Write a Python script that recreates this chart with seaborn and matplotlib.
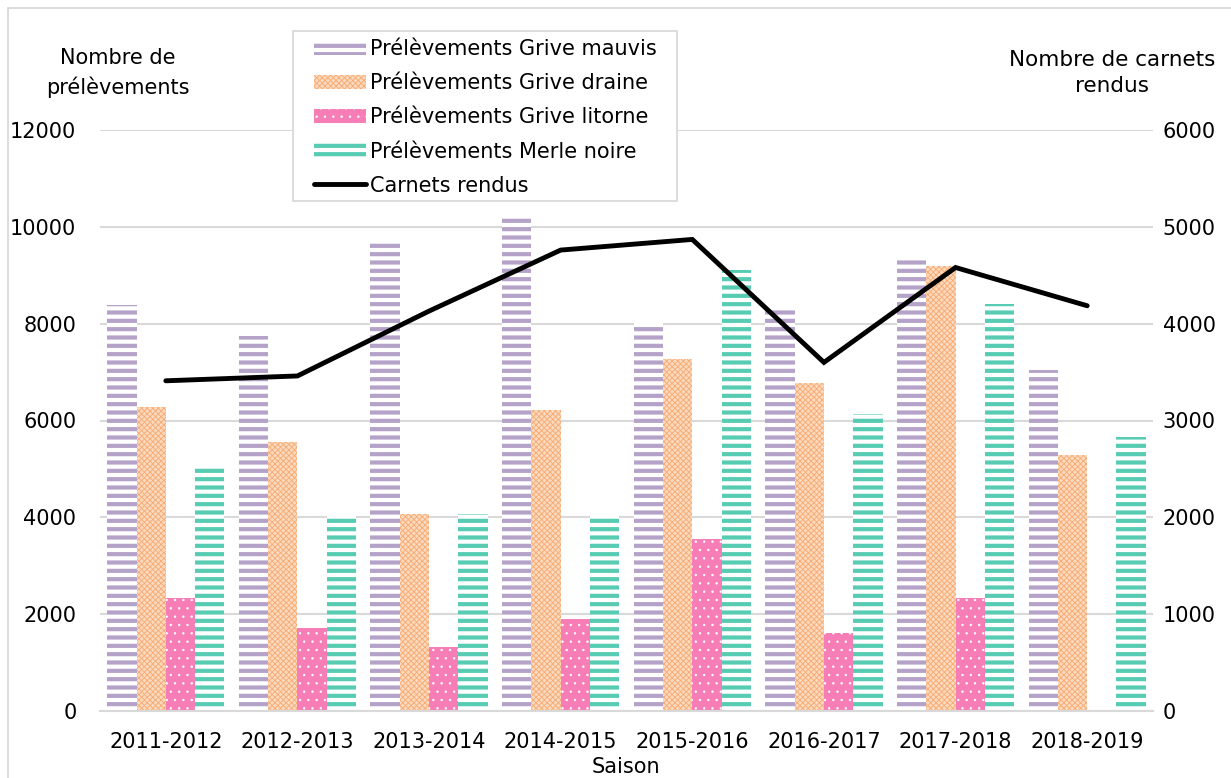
import numpy as np
import pandas as pd
import matplotlib
matplotlib.use("Agg")
import matplotlib.pyplot as plt
import seaborn as sns
from matplotlib.patches import Rectangle
from matplotlib.lines import Line2D

# ---- data -------------------------------------------------------------
saisons = ["2011-2012", "2012-2013", "2013-2014", "2014-2015",
           "2015-2016", "2016-2017", "2017-2018", "2018-2019"]

grive_mauvis = [8380, 7750, 9700, 10230, 8020, 8290, 9340, 7050]
grive_draine = [6270, 5560, 4060, 6210, 7270, 6780, 9200, 5290]
grive_litorne = [2330, 1710, 1320, 1890, 3560, 1620, 2330, 0]
merle_noire = [5030, 4020, 4060, 4050, 9110, 6140, 8410, 5660]
carnets_rendus = [3410, 3460, 4130, 4760, 4870, 3600, 4580, 4185]

series_labels = ["Prélèvements Grive mauvis", "Prélèvements Grive draine",
                 "Prélèvements Grive litorne", "Prélèvements Merle noire"]
line_label = "Carnets rendus"

left_ticks = [0, 2000, 4000, 6000, 8000, 10000, 12000]
right_ticks = [0, 1000, 2000, 3000, 4000, 5000, 6000]

# ---- styling ----------------------------------------------------------
sns.set_style("white")
plt.rcParams["font.family"] = ["DejaVu Sans"]
plt.rcParams["font.size"] = 15
for key in ("text.color", "axes.labelcolor", "xtick.color", "ytick.color"):
    plt.rcParams[key] = "black"

grid_grey = "#D9D9D9"
styles = [
    # face, hatch colour, hatch, hatch linewidth
    ("white", "#B4A2C8", "--", 3.0),
    ("#FCDAC0", "#F7AC74", "xxxxxx", 0.65),
    ("#F77DB6", "white", "..", 0.5),
    ("white", "#57CCB2", "--", 3.0),
]


def apply_style(patch, style):
    face, hcol, hatch, hlw = style
    patch.set_facecolor(face)
    patch.set_edgecolor(hcol)
    patch.set_linewidth(0)
    patch.set_hatch(hatch)
    if hasattr(patch, "set_hatch_linewidth"):
        patch.set_hatch_linewidth(hlw)


df = pd.DataFrame({
    "Saison": saisons * 4,
    "Espèce": np.repeat(series_labels, len(saisons)),
    "Prélèvements": grive_mauvis + grive_draine + grive_litorne + merle_noire,
})

fig = plt.figure(figsize=(12.31, 7.78), dpi=100)
ax = fig.add_axes([100 / 1231, 1 - 711 / 778, 1053 / 1231, 581 / 778])

sns.barplot(data=df, x="Saison", y="Prélèvements", hue="Espèce",
            hue_order=series_labels, order=saisons,
            palette=[s[0] for s in styles], saturation=1,
            width=0.89, gap=0, linewidth=0, legend=False, ax=ax)

for cont, style in zip(ax.containers, styles):
    for bar in cont.patches:
        apply_style(bar, style)

ax.set_ylim(0, 12000)
ax.set_yticks(left_ticks)
ax.set_yticklabels([str(t) for t in left_ticks])
ax.yaxis.grid(True, color=grid_grey, linewidth=1.5)
ax.set_axisbelow(True)
ax.tick_params(axis="y", length=0, pad=17, labelsize=15)
ax.tick_params(axis="x", which="major", length=0, pad=15, labelsize=15)
ax.set_xticks(np.arange(-0.5, len(saisons), 1), minor=True)
ax.tick_params(axis="x", which="minor", length=7, width=1.4, color=grid_grey)
for side in ("left", "right", "top"):
    ax.spines[side].set_visible(False)
ax.spines["bottom"].set_color(grid_grey)
ax.spines["bottom"].set_linewidth(1.5)

ax2 = ax.twinx()
sns.lineplot(x=np.arange(len(saisons)), y=carnets_rendus, ax=ax2,
             color="black", linewidth=3.5, legend=False)
ax2.lines[0].set_solid_joinstyle("miter")
ax2.lines[0].set_solid_capstyle("round")
ax2.set_ylim(0, 6000)
ax2.set_yticks(right_ticks)
ax2.set_yticklabels([str(t) for t in right_ticks])
ax2.tick_params(axis="y", length=0, pad=7, labelsize=15)
for side in ("left", "right", "top", "bottom"):
    ax2.spines[side].set_visible(False)
ax.set_xlim(-0.5, len(saisons) - 0.5)

ax.set_xlabel("Saison", fontsize=15, va="bottom")
ax.xaxis.set_label_coords((626 - 100) / 1053, (711 - 777) / 581)
ax.set_ylabel("Nombre de\nprélèvements", rotation=0, ha="center", va="center",
              fontsize=15, linespacing=1.45)
ax.yaxis.set_label_coords((118 - 100) / 1053, (711 - 73) / 581)
ax2.set_ylabel("Nombre de carnets\nrendus", rotation=0, ha="center",
               va="center", fontsize=15.5, linespacing=1.42)
ax2.yaxis.set_label_coords((1112 - 100) / 1053, (711 - 73) / 581)

# legend box
fig.patches.append(Rectangle((293 / 1231, 1 - 201 / 778), 384 / 1231, 170 / 778,
                             transform=fig.transFigure, facecolor="white",
                             edgecolor=grid_grey, linewidth=1.3, zorder=1))
handles = list(ax.containers) + [ax2.lines[0]]
labels = series_labels + [line_label]
leg = fig.legend(handles, labels, loc="upper left",
                 bbox_to_anchor=(314 / 1231, 1 - 39 / 778),
                 bbox_transform=fig.transFigure, frameon=False,
                 handlelength=2.5, handleheight=0.7, handletextpad=0.2,
                 labelspacing=0.68, borderpad=0, borderaxespad=0, fontsize=15)
for h, style in zip(leg.legend_handles[:4], styles):
    apply_style(h, style)

# chart area border
fig.add_artist(Line2D([8 / 1231, 8 / 1231], [0, 1 - 8 / 778],
                      transform=fig.transFigure, color=grid_grey, linewidth=1.3))
fig.add_artist(Line2D([8 / 1231, 1], [1 - 8 / 778, 1 - 8 / 778],
                      transform=fig.transFigure, color=grid_grey, linewidth=1.3))

fig.savefig("out.png", dpi=100)
